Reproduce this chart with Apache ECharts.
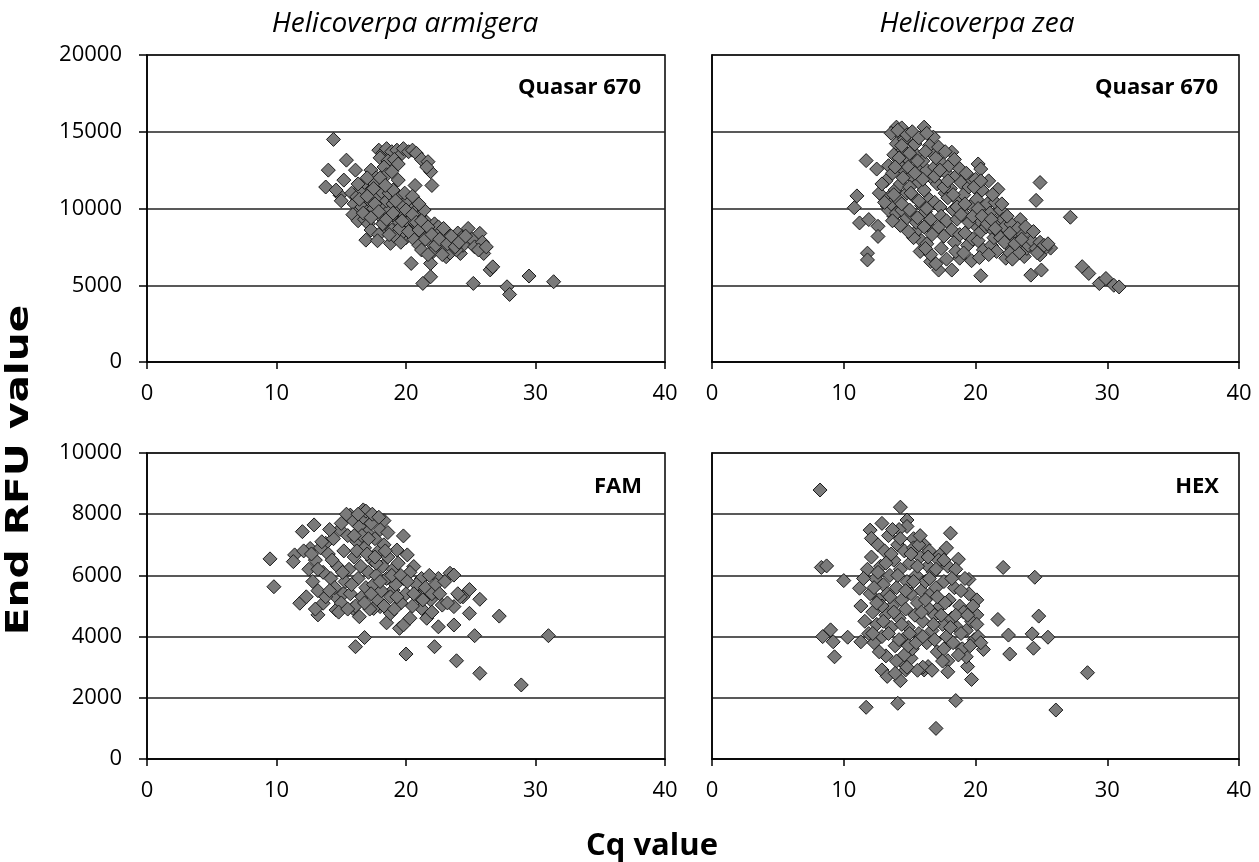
<!DOCTYPE html>
<html><head><meta charset="utf-8">
<script src="https://cdn.jsdelivr.net/npm/echarts@6/dist/echarts.min.js"></script>
<style>html,body{margin:0;padding:0;background:#fff}#c{width:1259px;height:862px}</style>
</head><body><div id="c"></div>
<script>
const speciesTitles = ['Helicoverpa armigera', 'Helicoverpa zea'];
const panelLabels = ['Quasar 670', 'Quasar 670', 'FAM', 'HEX'];
const xAxisTitle = 'Cq value';
const yAxisTitle = 'End RFU value';
const xTicks = [0, 40, 10];          // min, max, step
const yTicksTop = [0, 20000, 5000];
const yTicksBottom = [0, 10000, 2000];

// H. armigera, Quasar 670 [Cq, End RFU]
const armigeraQuasar = [
[14.4,14500],[15.4,13150],[14.0,12500],[13.8,11400],[14.9,10870],[16.1,12500],[15.2,11850],[14.6,11200],[15.0,10500],
[17.9,13800],[18.2,13600],[18.5,13900],[18.9,13700],[19.3,13800],[19.6,13500],[19.8,13900],[20.2,13700],[20.5,13800],[20.8,13600],
[21.2,13200],[21.7,13050],[21.9,12400],[21.6,12700],[18.0,13300],[18.6,13100],[19.1,13200],[19.4,12900],[18.3,12700],[18.5,12200],
[17.3,12500],[17.7,12000],[19.4,11850],[20.7,11500],[22.0,11500],
[15.8,11000],[16.0,10300],[16.2,10760],[16.4,9900],[15.9,9600],[16.6,10100],[16.3,9200],[16.8,9300],[16.5,11300],
[16.9,7940],[17.0,9800],[17.2,10500],[17.4,11200],[16.8,11700],[17.1,9000],[17.5,10000],[17.3,8600],[17.6,11600],
[17.8,10700],[18.0,9500],[18.2,10200],[18.4,8700],[18.1,11100],[17.9,8300],[18.6,9800],[18.3,9100],[18.5,10500],[18.8,7730],[18.7,11000],
[19.0,10300],[19.2,9400],[18.9,8600],[19.4,10800],[19.1,8200],[19.3,9900],[19.5,9100],[19.0,11200],
[19.7,10200],[19.9,9600],[20.1,8800],[20.3,10000],[20.0,8100],[20.4,9300],[19.8,8500],[20.4,6420],[20.2,10600],[19.6,7800],
[20.7,9800],[20.9,8900],[21.1,9500],[21.3,8300],[20.6,8000],[21.0,7600],[21.4,9900],[21.2,7300],[21.3,5120],
[21.6,9100],[21.8,8500],[22.0,7700],[22.2,9000],[21.9,6420],[21.9,5550],[22.4,8200],[22.1,7200],[21.7,7000],[22.5,8800],
[22.7,8500],[22.9,7800],[23.1,6860],[23.3,8300],[23.0,7400],[23.4,7100],[22.8,7000],
[23.7,7900],[24.0,8400],[24.2,7070],[24.4,7600],[23.9,7300],[24.3,8100],
[24.8,8700],[25.1,8000],[25.3,7500],[25.2,5120],[25.7,8380],[25.9,7800],[26.0,7070],[25.6,7300],[26.2,7500],
[26.5,6000],[26.7,6200],[27.8,4900],[28.0,4400],[29.5,5600],[31.4,5230],
[16.4,10600],[16.7,9700],[17.0,10800],[17.3,9400],[17.6,10300],[17.9,9800],[18.2,9000],[18.5,9300],[18.7,8300],[19.0,9700],
[19.2,10500],[19.5,8700],[19.7,9200],[20.0,9900],[20.2,8500],[20.5,9600],[20.8,9100],[21.0,8600],[21.2,9200],[21.5,8000],
[21.7,8800],[22.0,8300],[22.3,7600],[22.6,8000],[22.9,8700],[23.2,7700],[23.5,8200],[23.8,7500],[24.1,7800],[24.6,8200],
[17.0,12000],[17.5,11300],[18.0,12000],[18.9,12400],[19.9,11000],[20.5,10800],[21.0,10300],[18.4,11500],[16.3,11600],[17.8,7900]
];

// H. zea, Quasar 670
const zeaQuasar = [
[11.7,13120],[12.5,12570],[13.4,12790],[11.0,10820],[10.8,10050],[11.2,9060],[11.9,9280],[12.6,8840],[12.6,8180],[11.8,7090],[11.8,6650],
[13.3,10160],[13.8,9500],[14.0,15300],[14.4,15250],[16.1,15300],[14.2,14880],[14.0,14220],[16.8,14650],[18.2,13670],[20.2,12900],[20.4,12570],
[21.0,11800],[21.7,11250],[24.9,11690],[24.6,10530],[27.2,9430],[23.4,9280],[25.7,7420],[25.3,7420],[24.9,6980],[25.0,5990],[24.2,5660],
[23.7,6870],[22.3,6760],[20.4,5620],[18.2,5990],[17.2,5990],[16.6,6540],[15.8,7200],[18.8,6760],
[28.1,6210],[28.6,5770],[29.4,5110],[29.9,5440],[30.5,5000],[30.9,4890],
[13.2,11800],[13.5,10800],[13.7,12300],[13.9,11200],[13.4,9900],[13.8,13500],[13.6,10300],[14.0,9700],
[14.1,12900],[14.3,11600],[14.5,13800],[14.2,10500],[14.7,12400],[14.4,9900],[14.8,11000],[14.6,14500],[14.9,13200],[14.3,8900],[14.8,9400],
[15.1,12100],[15.3,10800],[15.5,13500],[15.2,9600],[15.7,11700],[15.4,14200],[15.9,10200],[15.6,8600],[15.8,12800],[15.0,11400],[15.5,9100],[15.9,7900],
[16.1,11200],[16.3,12500],[16.5,10600],[16.2,9800],[16.7,13600],[16.4,8900],[16.8,11900],[16.6,9300],[16.9,10400],[16.0,13100],[16.3,7700],[16.9,12700],[16.5,14100],
[17.1,11600],[17.3,10100],[17.5,12900],[17.2,8800],[17.7,11000],[17.4,9500],[17.8,12300],[17.6,8200],[17.9,10700],[17.0,13300],[17.4,7400],[17.8,9200],
[18.1,11300],[18.3,9900],[18.5,12100],[18.2,8600],[18.7,10500],[18.4,7800],[18.9,11700],[18.6,9300],[18.8,8300],[18.0,12800],
[19.1,10900],[19.3,9500],[19.5,11400],[19.2,8400],[19.7,10200],[19.4,7600],[19.9,9000],[19.6,12000],[19.8,8000],
[20.1,10600],[20.3,9200],[20.5,11200],[20.2,7900],[20.7,9800],[20.4,8500],[20.9,10300],[20.6,7300],[20.8,8800],[20.0,11900],
[21.1,9700],[21.3,8600],[21.5,10400],[21.2,7600],[21.7,9200],[21.4,8100],[21.9,9900],[21.6,7200],[21.8,8400],
[22.1,9300],[22.3,8200],[22.5,7600],[22.2,8800],[22.7,9000],[22.9,7900],[22.6,7100],[22.4,9500],[23.0,8500],
[23.2,8700],[23.4,7800],[23.6,8300],[23.9,7400],[23.3,7100],[23.8,8800],[24.0,7600],
[24.3,7900],[24.6,7400],[24.4,8500],[24.9,7800],[24.7,7100],[25.2,7600],[25.5,7700],
[13.6,14900],[14.1,15100],[14.8,14800],[15.2,15000],[15.7,14600],[16.3,14900],[14.4,14100],[15.0,13600],[15.6,13100],[16.2,13700],
[14.2,13300],[14.9,12700],[15.4,12300],[16.0,11900],[13.9,12700],[14.5,12000],[15.1,11000],[15.7,10500],[16.3,10000],[13.8,10900],
[14.4,10300],[15.0,9900],[15.6,9400],[16.1,8800],[16.7,8300],[16.9,12100],[17.3,12500],[17.6,11400],[17.9,11800],[18.3,10900],
[18.6,10100],[18.9,9600],[19.2,10300],[19.5,9100],[19.8,9500],[20.2,10000],[20.5,9500],[20.9,9000],[21.2,9300],[21.5,8700],
[21.9,8100],[22.2,7800],[22.6,8400],[23.0,7700],[23.5,8000],[17.2,14000],[17.7,13700],[18.4,13200],[18.8,12600],[19.3,12300],
[19.9,11400],[20.4,11800],[21.3,10900],[22.0,10300],[16.6,7000],[17.0,6400],[17.8,6700],[18.5,7200],[19.1,7100],[19.7,6600],
[20.3,6800],[21.0,7000],[22.8,6700],[16.2,7400],[15.3,8100],[14.9,8500],[13.7,9200],[13.1,10400],[12.7,11000],[12.9,11600]
];

// H. armigera, FAM
const armigeraFAM = [
[9.5,6540],[9.8,5630],[12.0,7430],[12.9,7650],[11.4,6670],[11.3,6450],[11.8,5090],[13.2,4710],[14.6,4870],[12.6,6880],[13.8,7050],
[15.7,7970],[16.7,8140],[17.1,7790],[18.3,7790],[19.8,7290],[19.3,6830],[20.1,6670],[20.6,6290],[21.2,5900],[21.0,5580],[22.5,5900],
[23.4,6070],[23.7,6010],[24.9,5540],[25.7,5220],[24.4,5300],[24.9,4760],[27.2,4670],[25.3,4030],[23.7,4380],[22.5,4320],[31.0,4030],
[16.8,3970],[16.1,3670],[20.0,3430],[22.2,3670],[23.9,3210],[25.7,2800],[28.9,2420],
[19.5,4270],[19.8,4380],[20.3,4600],[21.2,4920],[21.6,4600],[21.9,5200],[22.8,5030],[23.7,4980],[24.2,5300],[19.0,5520],[18.5,4450],
[18.8,4760],[18.0,4980],[17.5,4920],[16.4,4650],[15.9,4920],[13.6,5090],[14.6,5300],[15.2,5410],
[12.5,6200],[12.8,5800],[13.0,6500],[13.2,5500],[13.4,6900],[13.6,6100],[13.8,5300],[14.0,6700],[14.2,5900],[14.4,7200],[14.5,5600],
[14.7,6300],[14.9,7500],[15.0,5100],[15.2,6800],[15.3,5800],[15.5,7300],[15.6,6200],[15.7,5400],[15.9,7800],[16.0,6600],[16.1,5000],
[16.2,7100],[16.3,5900],[16.4,7600],[16.5,6300],[16.6,5300],[16.7,7900],[16.8,6900],[16.9,5600],[17.0,7400],[17.1,6100],[17.2,4900],
[17.3,7700],[17.4,6500],[17.5,5700],[17.6,7200],[17.7,6000],[17.8,5200],[17.9,6800],[18.0,7500],[18.1,5500],[18.2,6300],[18.3,7000],
[18.5,5900],[18.6,6600],[18.8,5300],[19.0,6200],[19.2,5700],[19.4,6400],[19.6,5100],[19.8,5900],[20.0,5400],[20.3,6100],[20.5,5000],
[20.8,5700],[21.0,5300],[21.5,5600],[22.0,5400],[22.3,5700],[21.8,6000],
[12.3,5300],[12.1,6800],[14.1,7500],[15.4,8000],[16.9,8100],[17.4,8000],[18.6,7400],[13.0,4900],[14.8,4800],
[13.5,7100],[14.3,6500],[15.1,6100],[15.8,5700],[16.2,6800],[16.6,7300],[17.0,6700],[17.3,5400],[17.7,6400],[18.0,5800],
[18.4,6800],[18.9,6000],[19.3,5300],[19.6,6000],[20.1,5800],[14.1,5500],[13.2,6200],[12.7,6700],[15.5,4900],[16.8,5100],
[18.3,5000],[16.0,7300],[17.1,7200],[17.6,6600],[19.1,4900],[20.6,5400],[21.3,5200],[22.6,5400],[23.2,5100],[23.0,5800],
[24.0,5400],[22.0,4800],[17.9,7900],[16.3,8000],[15.0,7700]
];

// H. zea, HEX
const zeaHEX = [
[8.2,8790],[14.3,8230],[12.9,7700],[12.0,7480],[12.1,7210],[14.8,7810],[18.1,7380],[8.3,6260],[8.7,6310],[10.0,5830],[11.2,5580],
[22.1,6260],[24.5,5940],[24.8,4670],[21.7,4560],[22.5,4050],[24.3,4090],[25.5,3980],[22.6,3430],[24.4,3620],[28.5,2820],[26.1,1600],
[17.0,1000],[11.7,1690],[14.1,1820],[18.5,1910],[8.4,4000],[9.0,4220],[9.2,3830],[9.3,3340],[10.3,3980],[11.3,3830],
[12.9,2910],[14.3,2560],[14.7,2910],[16.1,2910],[16.4,3020],[17.9,3210],[17.9,2850],[19.4,3020],[19.7,2600],[13.2,3370],[14.4,3180],
[15.1,3290],[19.3,3340],[20.6,3580],[20.1,5200],[20.1,4710],[18.7,6530],[19.5,5870],[17.3,6670],
[11.8,6200],[12.0,5400],[12.2,4800],[12.1,6600],[12.4,5900],[12.5,4400],[12.6,7000],[12.7,5200],[12.8,6300],[12.9,4000],[13.0,5700],
[13.1,6800],[13.2,4700],[13.3,5400],[13.4,7300],[13.5,6000],[13.6,4300],[13.7,5000],[13.8,6500],[13.9,3700],[14.0,5600],[14.1,7000],
[14.2,4600],[14.3,6200],[14.4,5200],[14.5,3900],[14.6,6800],[14.7,4900],[14.8,5800],[14.9,4300],[15.0,6400],[15.1,5400],[15.2,3600],
[15.3,7200],[15.4,4700],[15.5,6000],[15.6,5100],[15.7,4100],[15.8,6600],[15.9,5500],[16.0,4500],[16.1,7000],[16.2,5800],[16.3,3800],
[16.4,6300],[16.5,4900],[16.6,5400],[16.7,4200],[16.8,6100],[16.9,4700],[17.0,5600],[17.1,3500],[17.2,6500],[17.3,5000],[17.5,4400],
[17.6,5800],[17.8,4000],[17.9,6300],[18.0,5200],[18.2,4600],[18.3,3800],[18.4,5600],[18.6,4300],[18.8,5000],[19.0,3600],[19.1,4800],
[19.3,4200],[19.5,5400],[19.7,4500],[19.9,3900],[20.1,4400],[12.3,3800],[11.6,4500],[11.3,5000],[11.5,5900],[13.3,2700],[14.0,3200],
[14.6,3400],[16.0,3000],[15.3,6900],[14.8,7600],[14.2,7500],[13.7,7500],[15.7,7000],[16.5,6800],[17.8,6900],[18.5,6200],[19.2,5900],
[12.3,5600],[12.6,6100],[12.9,5000],[13.2,6400],[13.5,5300],[13.8,4800],[14.1,6000],[14.4,4400],[14.7,5500],[15.0,4100],
[15.3,5800],[15.6,6300],[15.9,4800],[16.2,5200],[16.5,5900],[16.8,4400],[17.1,5300],[17.4,4700],[17.7,5100],[18.1,4300],
[18.5,4700],[18.9,4100],[19.4,4700],[12.5,5100],[13.0,4500],[13.4,4100],[14.2,3900],[14.9,3700],[15.5,3800],[16.0,4000],
[16.9,3900],[17.6,3600],[18.7,3400],[19.6,3700],[13.6,6700],[14.3,7200],[15.1,6700],[15.8,7300],[16.4,6600],[17.0,6200],
[17.6,6500],[18.2,5900],[18.9,5500],[19.8,5000],[20.2,4000],[20.4,3800],[11.9,4100],[12.2,4100],[13.9,2800],[15.6,2900],
[17.5,3200],[12.7,3500],[14.8,3000],[16.7,2900]
];

const panelData = [armigeraQuasar, zeaQuasar, armigeraFAM, zeaHEX];
const FONT = '"Open Sans", "Liberation Sans", sans-serif';

const grids = [
  {left: 147, top: 55, width: 518, height: 307},
  {left: 712, top: 55, width: 527, height: 307},
  {left: 147, top: 453, width: 518, height: 306},
  {left: 712, top: 453, width: 527, height: 306}
].map(g => Object.assign(g, {show: true, borderColor: '#000', borderWidth: 1.5, containLabel: false}));

const xAxes = grids.map((g, i) => ({
  gridIndex: i, type: 'value', min: xTicks[0], max: xTicks[1], interval: xTicks[2],
  axisLine: {show: true, lineStyle: {color: '#000', width: 1.5}},
  axisTick: {show: true, inside: false, length: 7, lineStyle: {color: '#000', width: 1.5}},
  axisLabel: {show: true, color: '#000', fontSize: 22, fontFamily: FONT, margin: 21, showMinLabel: true, showMaxLabel: true},
  splitLine: {show: false}
}));

const yAxes = grids.map((g, i) => {
  const t = i < 2 ? yTicksTop : yTicksBottom;
  const left = i % 2 === 0;
  return {
    gridIndex: i, type: 'value', min: t[0], max: t[1], interval: t[2],
    axisLine: {show: true, lineStyle: {color: '#000', width: 1.5}},
    axisTick: {show: left, inside: false, length: 8, lineStyle: {color: '#000', width: 1.5}},
    axisLabel: {show: left, color: '#000', fontSize: 22, fontFamily: FONT, margin: 25,
      showMinLabel: true, showMaxLabel: true, formatter: v => String(v)},
    splitLine: {show: true, lineStyle: {color: '#222', width: 1.5}}
  };
});

const series = panelData.map((d, i) => ({
  type: 'scatter', xAxisIndex: i, yAxisIndex: i, data: d,
  symbol: 'diamond', symbolSize: 14,
  itemStyle: {color: '#7a7a7a', borderColor: '#1a1a1a', borderWidth: 1, opacity: 1},
  emphasis: {disabled: true}
}));

const labelPos = [[641, 88], [1218, 88], [642, 487], [1219, 487]];
const graphics = [];
speciesTitles.forEach((t, i) => {
  graphics.push({type: 'text', x: i === 0 ? 405 : 977, y: 24,
    style: {text: t, fontSize: 28, fontStyle: 'italic', fontFamily: FONT, fill: '#000', align: 'center', verticalAlign: 'middle'}});
});
panelLabels.forEach((t, i) => {
  graphics.push({type: 'text', x: labelPos[i][0], y: labelPos[i][1],
    style: {text: t, fontSize: 22, fontWeight: 'bold', fontFamily: FONT, fill: '#000', align: 'right', verticalAlign: 'middle'}});
});
graphics.push({type: 'text', x: 652, y: 846,
  style: {text: xAxisTitle, fontSize: 31, fontWeight: 'bold', fontFamily: FONT, fill: '#000', align: 'center', verticalAlign: 'middle'}});
graphics.push({type: 'text', x: 20, y: 470, rotation: Math.PI / 2, scaleX: 1.27,
  style: {text: yAxisTitle, fontSize: 32, fontWeight: 'bold', fontFamily: '"DejaVu Sans", sans-serif', fill: '#000', align: 'center', verticalAlign: 'middle'}});

const chart = echarts.init(document.getElementById('c'), null, {renderer: 'canvas'});
chart.setOption({
  animation: false,
  backgroundColor: '#fff',
  grid: grids, xAxis: xAxes, yAxis: yAxes, series: series,
  graphic: {elements: graphics}
});
</script></body></html>
